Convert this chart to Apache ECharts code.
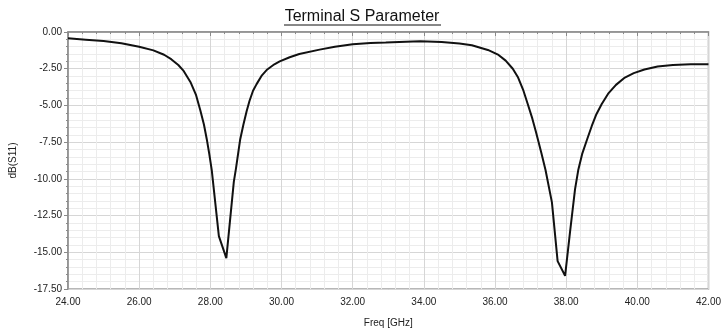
<!DOCTYPE html>
<html>
<head>
<meta charset="utf-8">
<script src="https://cdn.jsdelivr.net/npm/echarts@6/dist/echarts.min.js"></script>
<style>
html,body{margin:0;padding:0;background:#fff;}
#chart{width:724px;height:333px;}
</style>
</head>
<body>
<div id="chart"></div>
<script>
var titleText = "Terminal S Parameter";
var xName = "Freq [GHz]";
var yName = "dB(S11)";

var freq = [24.0, 24.5, 25.0, 25.5, 26.0, 26.4, 26.7, 26.9, 27.1, 27.25, 27.44, 27.6, 27.72, 27.82, 27.9, 27.97, 28.04, 28.24, 28.45, 28.66, 28.72, 28.78, 28.84, 28.93, 29.02, 29.1, 29.2, 29.3, 29.45, 29.6, 29.8, 29.95, 30.23, 30.5, 31.07, 31.5, 32.0, 32.5, 32.93, 33.5, 33.9, 34.5, 35.0, 35.35, 35.8, 36.1, 36.3, 36.5, 36.65, 36.8, 36.92, 37.05, 37.15, 37.3, 37.42, 37.6, 37.76, 37.97, 38.11, 38.25, 38.34, 38.45, 38.59, 38.72, 38.85, 39.0, 39.18, 39.4, 39.65, 39.9, 40.2, 40.57, 41.0, 41.5, 42.0];
var s11 = [-0.43, -0.52, -0.62, -0.77, -1.0, -1.25, -1.55, -1.85, -2.25, -2.65, -3.4, -4.3, -5.35, -6.3, -7.3, -8.3, -9.4, -13.9, -15.4, -10.2, -9.3, -8.3, -7.3, -6.3, -5.4, -4.7, -4.0, -3.55, -2.95, -2.55, -2.2, -2.0, -1.72, -1.5, -1.2, -1.0, -0.84, -0.75, -0.72, -0.66, -0.63, -0.68, -0.78, -0.9, -1.22, -1.56, -1.95, -2.5, -3.1, -4.0, -4.9, -5.9, -6.8, -8.2, -9.4, -11.6, -15.6, -16.6, -13.6, -10.7, -9.4, -8.3, -7.3, -6.4, -5.6, -4.9, -4.2, -3.6, -3.1, -2.8, -2.55, -2.35, -2.25, -2.2, -2.2];

var xTicks = { min: 24, max: 42, step: 2 };
var yTicks = { min: -17.5, max: 0, step: 2.5 };

var seriesData = freq.map(function (f, i) { return [f, s11[i]]; });

var chart = echarts.init(document.getElementById('chart'), null, { renderer: 'canvas' });
var labelFont = { color: '#222', fontFamily: 'Liberation Sans, Arial, sans-serif', fontSize: 10 };
chart.setOption({
  animation: false,
  backgroundColor: '#ffffff',
  title: {
    text: titleText,
    left: 'center',
    top: 4,
    textStyle: { color: '#111', fontFamily: 'Liberation Sans, Arial, sans-serif', fontSize: 16, fontWeight: 'normal' }
  },
  graphic: [{
    type: 'line',
    shape: { x1: 284, y1: 25, x2: 441, y2: 25 },
    style: { stroke: '#111', lineWidth: 1 }
  }],
  grid: {
    left: 67, right: 13, top: 32, bottom: 43,
    show: true, borderColor: '#a0a0a0', borderWidth: 1.5, backgroundColor: '#ffffff'
  },
  xAxis: {
    type: 'value',
    min: xTicks.min, max: xTicks.max, interval: xTicks.step,
    name: xName, nameLocation: 'middle', nameGap: 29,
    nameTextStyle: { color: '#222', fontFamily: 'Liberation Sans, Arial, sans-serif', fontSize: 10 },
    axisLine: { show: true, lineStyle: { color: '#8a8a8a', width: 1.5 } },
    axisTick: { show: true, length: 4, lineStyle: { color: '#8a8a8a' } },
    minorTick: { show: true, splitNumber: 5, length: 2, lineStyle: { color: '#8a8a8a' } },
    axisLabel: Object.assign({ margin: 8, formatter: function (v) { return v.toFixed(2); } }, labelFont),
    splitLine: { show: true, lineStyle: { color: '#d6d6d6', width: 1 } },
    minorSplitLine: { show: true, lineStyle: { color: '#ececec', width: 1 } }
  },
  yAxis: {
    type: 'value',
    min: yTicks.min, max: yTicks.max, interval: yTicks.step,
    name: yName, nameLocation: 'middle', nameGap: 50, nameRotate: 90,
    nameTextStyle: { color: '#222', fontFamily: 'Liberation Sans, Arial, sans-serif', fontSize: 10 },
    axisLine: { show: true, lineStyle: { color: '#8a8a8a', width: 1.5 } },
    axisTick: { show: true, length: 4, lineStyle: { color: '#8a8a8a' } },
    minorTick: { show: true, splitNumber: 5, length: 2, lineStyle: { color: '#8a8a8a' } },
    axisLabel: Object.assign({ margin: 6, formatter: function (v) { return v.toFixed(2); } }, labelFont),
    splitLine: { show: true, lineStyle: { color: '#d6d6d6', width: 1 } },
    minorSplitLine: { show: true, lineStyle: { color: '#ececec', width: 1 } }
  },
  series: [{
    type: 'line',
    data: seriesData,
    showSymbol: false,
    smooth: false,
    lineStyle: { color: '#111', width: 2 }
  }]
});
</script>
</body>
</html>
